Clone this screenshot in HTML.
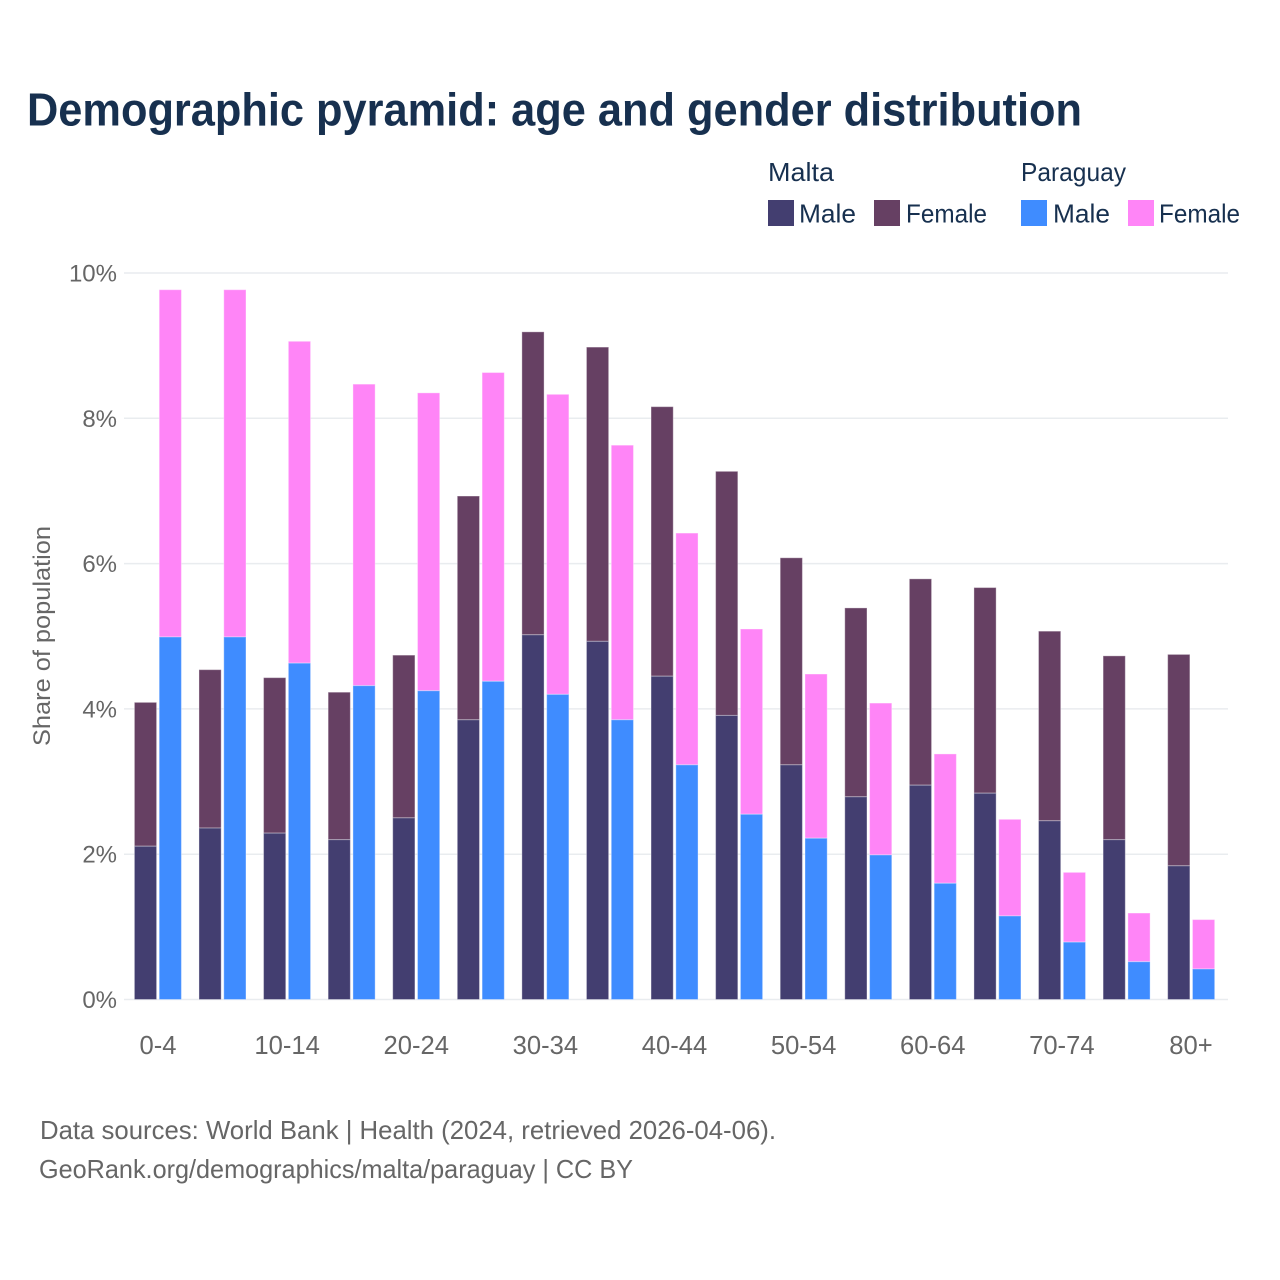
<!DOCTYPE html>
<html>
<head>
<meta charset="utf-8">
<title>Demographic pyramid</title>
<style>
html,body{margin:0;padding:0;background:#fff}
svg{display:block}
text{font-family:"Liberation Sans",sans-serif}
</style>
</head>
<body>
<svg id="chart" width="1280" height="1280" viewBox="0 0 1280 1280" xmlns="http://www.w3.org/2000/svg">
<text x="27" y="125.5" font-size="46" font-weight="700" fill="#17304f" textLength="1055" lengthAdjust="spacingAndGlyphs">Demographic pyramid: age and gender distribution</text>
<g>
<text x="768" y="181" font-size="26" fill="#17304f" textLength="66" lengthAdjust="spacingAndGlyphs">Malta</text>
<text x="1021" y="181" font-size="26" fill="#17304f" textLength="105" lengthAdjust="spacingAndGlyphs">Paraguay</text>
<rect x="768" y="200" width="26" height="26" fill="#433e70"/>
<text x="799" y="222.5" font-size="26" fill="#17304f" textLength="57" lengthAdjust="spacingAndGlyphs">Male</text>
<rect x="874" y="200" width="26" height="26" fill="#664063"/>
<text x="906" y="222.5" font-size="26" fill="#17304f" textLength="81" lengthAdjust="spacingAndGlyphs">Female</text>
<rect x="1021" y="200" width="26" height="26" fill="#3f8cff"/>
<text x="1053" y="222.5" font-size="26" fill="#17304f" textLength="57" lengthAdjust="spacingAndGlyphs">Male</text>
<rect x="1128" y="200" width="26" height="26" fill="#ff85f7"/>
<text x="1159" y="222.5" font-size="26" fill="#17304f" textLength="81" lengthAdjust="spacingAndGlyphs">Female</text>
</g>
<text transform="translate(50,636) rotate(-90)" text-anchor="middle" font-size="24" fill="#666" textLength="220" lengthAdjust="spacingAndGlyphs">Share of population</text>
<g id="grid"></g>
<g id="bars"></g>
<g id="xlabels"></g>
<text x="40" y="1139" font-size="26" fill="#666" textLength="736" lengthAdjust="spacingAndGlyphs">Data sources: World Bank | Health (2024, retrieved 2026-04-06).</text>
<text x="39" y="1178" font-size="26" fill="#666" textLength="594" lengthAdjust="spacingAndGlyphs">GeoRank.org/demographics/malta/paraguay | CC BY</text>
</svg>
<script>
const categories = ["0-4","5-9","10-14","15-19","20-24","25-29","30-34","35-39","40-44","45-49","50-54","55-59","60-64","65-69","70-74","75-79","80+"];
const tickCategories = ["0-4","10-14","20-24","30-34","40-44","50-54","60-64","70-74","80+"];
const yTicks = [0,2,4,6,8,10];
const maltaMale = [2.11,2.36,2.29,2.20,2.50,3.85,5.02,4.93,4.45,3.91,3.23,2.79,2.95,2.84,2.46,2.20,1.84];
const maltaFemale = [1.98,2.18,2.14,2.03,2.24,3.08,4.17,4.05,3.71,3.36,2.85,2.60,2.84,2.83,2.61,2.53,2.91];
const paraguayMale = [4.99,4.99,4.63,4.32,4.25,4.38,4.20,3.85,3.23,2.55,2.22,1.99,1.60,1.15,0.79,0.52,0.42];
const paraguayFemale = [4.78,4.78,4.43,4.15,4.10,4.25,4.13,3.78,3.19,2.55,2.26,2.09,1.78,1.33,0.96,0.67,0.68];

const NS = "http://www.w3.org/2000/svg";
function yScale(v){ return 999.5 - v * 72.65; }
function xCenter(i){ return 158 + i * 64.56; }
function barCenter(i){ return 157.9 + i * 64.58; }
const barWidth = 22.2;
const barOffset = 1.3;

function make(parent, tag, attrs){
  const el = document.createElementNS(NS, tag);
  for (const k in attrs) el.setAttribute(k, attrs[k]);
  parent.appendChild(el);
  return el;
}

const grid = document.getElementById("grid");
yTicks.forEach(function(t){
  const line = make(grid, "line", {x1:124, x2:1228, y1:yScale(t), y2:yScale(t), stroke:"#e9ecef", "stroke-width":1.5});
  
  
  const label = make(grid, "text", {x:117, y:yScale(t)+8.5, "text-anchor":"end", "font-size":24, fill:"#666"});
  label.textContent = t + "%";
  
  
});

const barsG = document.getElementById("bars");
function stacked(x, male, female, maleColor, femaleColor){
  const top = make(barsG, "rect", {x:x, y:yScale(male+female), width:barWidth, height:yScale(male)-yScale(male+female), fill:femaleColor, stroke:"#fff", "stroke-opacity":0.35, "stroke-width":1});
  
  
  const bottom = make(barsG, "rect", {x:x, y:yScale(male), width:barWidth, height:yScale(0)-yScale(male), fill:maleColor, stroke:"#fff", "stroke-opacity":0.35, "stroke-width":1});
  
  
}
categories.forEach(function(c,i){
  const cx = barCenter(i);
  stacked(cx - barOffset - barWidth, maltaMale[i], maltaFemale[i], "#433e70", "#664063");
  stacked(cx + barOffset, paraguayMale[i], paraguayFemale[i], "#3f8cff", "#ff85f7");
});

const xl = document.getElementById("xlabels");
tickCategories.forEach(function(c){
  const i = categories.indexOf(c);
  const t = make(xl, "text", {x:xCenter(i), y:1054, "text-anchor":"middle", "font-size":25.6, fill:"#666"});
  t.textContent = c;
  
  
});
</script>
</body>
</html>
